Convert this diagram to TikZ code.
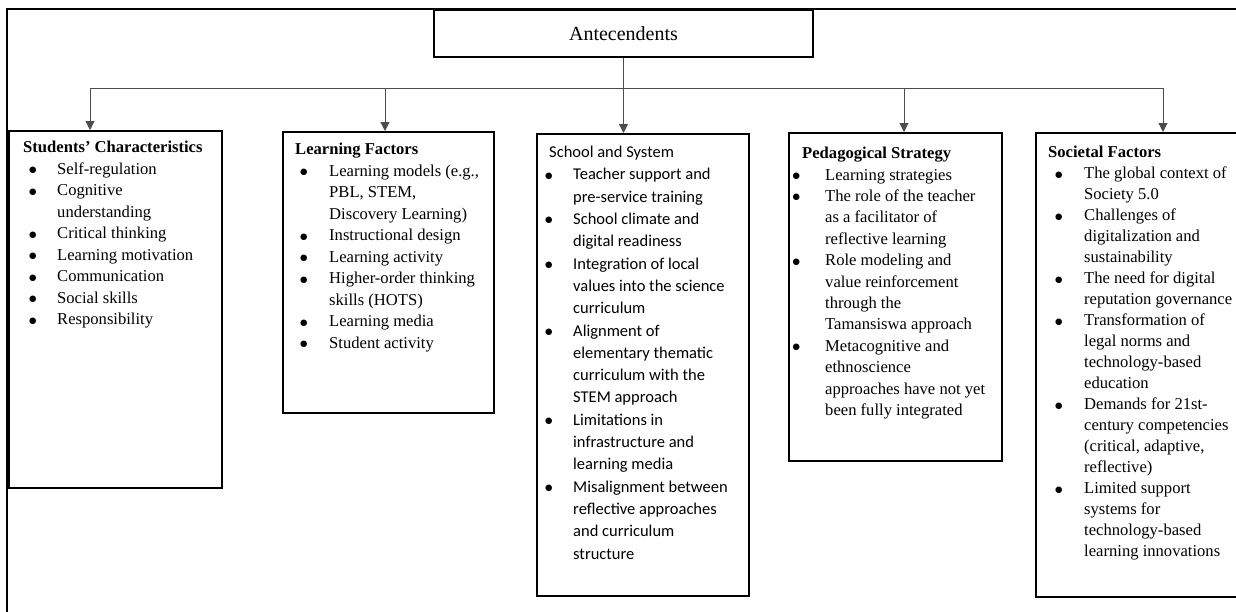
\documentclass[tikz,border=0pt]{standalone}
\usepackage{fontspec}
\setmainfont{Liberation Serif}
\newfontfamily\calibri{Carlito}
\newfontfamily\bulletfont{DejaVu Sans}
\usetikzlibrary{positioning,arrows.meta}
\definecolor{linegray}{rgb}{0.3,0.3,0.3}
\tikzset {
        boxnode/.style={draw, line width=1.5pt, inner sep=0pt, anchor=north west},
        listnode/.style={anchor=north west, inner sep=0pt, align=left, font=\fontsize{16.6pt}{21.5pt}\selectfont},
        link/.style={draw=linegray, line width=0.9pt},
        arrowlink/.style={link, -{Triangle[width=9pt,length=9pt]}},
        default/.style={}
}
\newcommand{\bi}[2]{\hspace*{#1}\makebox[#2][l]{\raisebox{1.6pt}{\bulletfont\fontsize{8.5pt}{9pt}\selectfont ●}}}

\begin{document}
\begin{tikzpicture}[x=1pt,y=-1pt]
            \useasboundingbox (0,0) rectangle (1236,611);
            \draw[line width=2pt] (7,640) -- (7,9) -- (1260,9);
            \node[draw, line width=1.5pt, minimum width=379pt, minimum height=47pt, inner sep=0pt, font=\fontsize{20pt}{24pt}\selectfont] (Antecendents) at (623.5,33.5) {
                Antecendents
            };
            \node[boxnode, minimum width=213pt, minimum height=357pt] (StudentsCharacteristics) at (8,130) {};
            \node[boxnode, minimum width=211pt, minimum height=281pt] (LearningFactors) at (282,131) {};
            \node[boxnode, minimum width=212pt, minimum height=462pt] (SchoolSystem) at (536,133) {};
            \node[boxnode, minimum width=213pt, minimum height=328pt] (PedagogicalStrategy) at (788,132) {};
            \node[boxnode, minimum width=201pt, minimum height=464pt] (SocietalFactors) at (1035,132) {};
            \node[listnode] (StudentsText) at (23,141) {
                {\bfseries Students’ Characteristics}\\
                \bi{6pt}{28pt}Self-regulation\\
                \bi{6pt}{28pt}Cognitive\\
                \hspace*{34pt}understanding\\
                \bi{6pt}{28pt}Critical thinking\\
                \bi{6pt}{28pt}Learning motivation\\
                \bi{6pt}{28pt}Communication\\
                \bi{6pt}{28pt}Social skills\\
                \bi{6pt}{28pt}Responsibility
            };
            \node[listnode] (LearningText) at (295,143) {
                {\bfseries Learning Factors}\\
                \bi{5pt}{29pt}Learning models (e.g.,\\
                \hspace*{34pt}PBL, STEM,\\
                \hspace*{34pt}Discovery Learning)\\
                \bi{5pt}{29pt}Instructional design\\
                \bi{5pt}{29pt}Learning activity\\
                \bi{5pt}{29pt}Higher-order thinking\\
                \hspace*{34pt}skills (HOTS)\\
                \bi{5pt}{29pt}Learning media\\
                \bi{5pt}{29pt}Student activity
            };
            \node[listnode, font=\calibri\fontsize{16.5pt}{22.3pt}\selectfont] (SchoolText) at (545,146) {
                \hspace*{4pt}School and System\\
                \bi{0pt}{28pt}Teacher support and\\
                \hspace*{28pt}pre-service training\\
                \bi{0pt}{28pt}School climate and\\
                \hspace*{28pt}digital readiness\\
                \bi{0pt}{28pt}Integration of local\\
                \hspace*{28pt}values into the science\\
                \hspace*{28pt}curriculum\\
                \bi{0pt}{28pt}Alignment of\\
                \hspace*{28pt}elementary thematic\\
                \hspace*{28pt}curriculum with the\\
                \hspace*{28pt}STEM approach\\
                \bi{0pt}{28pt}Limitations in\\
                \hspace*{28pt}infrastructure and\\
                \hspace*{28pt}learning media\\
                \bi{0pt}{28pt}Misalignment between\\
                \hspace*{28pt}reflective approaches\\
                \hspace*{28pt}and curriculum\\
                \hspace*{28pt}structure
            };
            \node[listnode, font=\fontsize{16.6pt}{21.4pt}\selectfont] (PedagogicalText) at (789,147) {
                \hspace*{13pt}{\bfseries Pedagogical Strategy}\\
                \bi{3.5pt}{32.5pt}Learning strategies\\
                \bi{3.5pt}{32.5pt}The role of the teacher\\
                \hspace*{36pt}as a facilitator of\\
                \hspace*{36pt}reflective learning\\
                \bi{3.5pt}{32.5pt}Role modeling and\\
                \hspace*{36pt}value reinforcement\\
                \hspace*{36pt}through the\\
                \hspace*{36pt}Tamansiswa approach\\
                \bi{3.5pt}{32.5pt}Metacognitive and\\
                \hspace*{36pt}ethnoscience\\
                \hspace*{36pt}approaches have not yet\\
                \hspace*{36pt}been fully integrated
            };
            \node[listnode, font=\fontsize{16.6pt}{21pt}\selectfont] (SocietalText) at (1048,146) {
                {\bfseries Societal Factors}\\
                \bi{7pt}{29pt}The global context of\\
                \hspace*{36pt}Society 5.0\\
                \bi{7pt}{29pt}Challenges of\\
                \hspace*{36pt}digitalization and\\
                \hspace*{36pt}sustainability\\
                \bi{7pt}{29pt}The need for digital\\
                \hspace*{36pt}reputation governance\\
                \bi{7pt}{29pt}Transformation of\\
                \hspace*{36pt}legal norms and\\
                \hspace*{36pt}technology-based\\
                \hspace*{36pt}education\\
                \bi{7pt}{29pt}Demands for 21st-\\
                \hspace*{36pt}century competencies\\
                \hspace*{36pt}(critical, adaptive,\\
                \hspace*{36pt}reflective)\\
                \bi{7pt}{29pt}Limited support\\
                \hspace*{36pt}systems for\\
                \hspace*{36pt}technology-based\\
                \hspace*{36pt}learning innovations
            };
            \coordinate (BarLeft) at (90,88);
            \coordinate (BarLearning) at (385,88);
            \coordinate (BarPedagogical) at (904,88);
            \coordinate (BarRight) at (1163,88);
            \draw[link] (BarLeft) -- (BarRight);
            \draw[arrowlink] (Antecendents.south) -- (Antecendents.south |- SchoolSystem.north);
            \draw[arrowlink] (BarLeft) -- (BarLeft |- StudentsCharacteristics.north);
            \draw[arrowlink] (BarLearning) -- (BarLearning |- LearningFactors.north);
            \draw[arrowlink] (BarPedagogical) -- (BarPedagogical |- PedagogicalStrategy.north);
            \draw[arrowlink] (BarRight) -- (BarRight |- SocietalFactors.north);
        \end{tikzpicture}
\end{document}
